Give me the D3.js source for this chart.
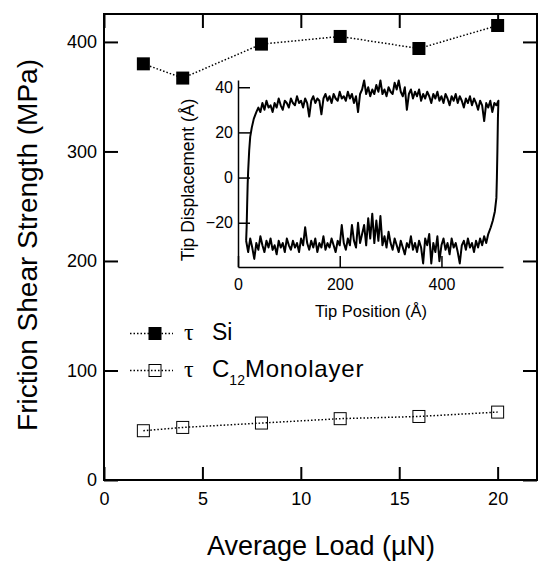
<!DOCTYPE html>
<html>
<head>
<meta charset="utf-8">
<script src="https://cdn.jsdelivr.net/npm/d3@7"></script>
<style>
  body { margin: 0; background: #fff; }
  svg { display: block; font-family: "Liberation Sans", Arial, sans-serif; }
  .tick text { fill: #000; }
</style>
</head>
<body>
<div id="chart"></div>
<script>
// main plot: average load (uN) vs friction shear strength (MPa)
const loads = [2, 4, 8, 12, 16, 20];
const tauSi = [380, 367, 398, 405, 394, 415];
const tauC12 = [45, 48, 52, 56, 58, 62];
const xTicks = [0, 5, 10, 15, 20];
const yTicks = [0, 100, 200, 300, 400];

// inset: friction loop, tip position (A) vs tip displacement (A)
const insetXTicks = [0, 200, 400];
const insetYTicks = [-20, 0, 20, 40];
const loopStartX = 40, loopStep = 4;       // forward trace sampled from 40 A every 4 A
const backStartX = 16;                      // return trace sampled from 16 A every 4 A
const traceForward = [
  31, 29, 33, 30, 34, 31, 32, 29, 33, 31, 35, 32, 30, 34, 33, 31, 35, 33, 32, 36,
  33, 34, 31, 35, 33, 27, 34, 36, 33, 35, 34, 28, 35, 37, 34, 36, 33, 37, 35, 34,
  38, 35, 36, 34, 38, 35, 37, 33, 36, 29, 37, 39, 43, 37, 40, 36, 39, 37, 41, 38,
  43, 37, 39, 36, 40, 38, 37, 42, 39, 43, 38, 36, 40, 30, 37, 39, 35, 38, 36, 39,
  34, 37, 35, 38, 36, 33, 37, 35, 38, 34, 36, 33, 37, 35, 32, 36, 34, 37, 33, 36,
  34, 31, 35, 33, 36, 32, 35, 33, 30, 34, 32, 25, 33, 31, 34, 29, 33, 32, 34
];
const traceBack = [
  -28, -33, -27, -31, -36, -29, -32, -26, -30, -33, -28, -31, -27, -32, -30, -34, -28, -31, -29, -33,
  -27, -30, -32, -28, -31, -29, -33, -27, -30, -22, -29, -32, -28, -31, -27, -33, -29, -31, -26, -32,
  -29, -31, -27, -30, -33, -28, -30, -21, -29, -32, -27, -30, -21, -28, -31, -20, -29, -25, -21, -30,
  -18, -27, -16, -29, -19, -28, -17, -30, -26, -31, -24, -29, -32, -27, -30, -33, -28, -31, -34, -29,
  -31, -26, -32, -29, -33, -28, -31, -38, -27, -30, -25, -38, -29, -33, -26, -37, -30, -27, -32, -29,
  -34, -27, -31, -29, -33, -38, -30, -28, -32, -27, -31, -29, -33, -28, -31, -27, -30, -26, -29, -25
];
// sticking part at the left end (up) and right end (down), [position, displacement]
const leftTurn = [[17, -22], [18, -12], [19, -3], [20, 3], [22, 12], [24, 18], [27, 22], [31, 26], [36, 29]];
const rightTurn = [[511, 26], [510, 12], [509, 0], [508, -9], [505, -15], [501, -19], [497, -22]];

const W = 540, H = 561;
const svg = d3.select("#chart").append("svg").attr("width", W).attr("height", H);

const x = d3.scaleLinear().domain([0, 22]).range([104, 537]);
const y = d3.scaleLinear().domain([0, 425.5]).range([480, 14]);

// axes (ticks pointing inward, mirrored on top/right)
const axLeft = svg.append("g").attr("transform", `translate(${x(0)},0)`)
  .call(d3.axisLeft(y).tickValues(yTicks).tickSizeInner(-14).tickSizeOuter(0).tickPadding(7));
const axBottom = svg.append("g").attr("transform", `translate(0,${y(0)})`)
  .call(d3.axisBottom(x).tickValues(xTicks).tickSizeInner(-13).tickSizeOuter(0).tickPadding(12));
const axTop = svg.append("g").attr("transform", `translate(0,${y.range()[1]})`)
  .call(d3.axisTop(x).tickValues(xTicks).tickSizeInner(-14).tickSizeOuter(0).tickFormat(""));
const axRight = svg.append("g").attr("transform", `translate(${x.range()[1]},0)`)
  .call(d3.axisRight(y).tickValues(yTicks).tickSizeInner(-14).tickSizeOuter(0).tickFormat(""));

[axLeft, axBottom, axTop, axRight].forEach(g => {
  g.select(".domain").remove();
  g.selectAll(".tick line").attr("stroke", "#000").attr("stroke-width", 2);
  g.selectAll(".tick text").style("font-size", "18px").attr("font-family", null);
});

svg.append("rect")
  .attr("x", x(0)).attr("y", y.range()[1])
  .attr("width", x.range()[1] - x(0)).attr("height", y(0) - y.range()[1])
  .attr("fill", "none").attr("stroke", "#000").attr("stroke-width", 2);

svg.append("text")
  .attr("transform", `translate(37,245) rotate(-90)`)
  .attr("text-anchor", "middle")
  .style("font-size", "28px")
  .text("Friction Shear Strength (MPa)");

svg.append("text")
  .attr("x", 321).attr("y", 555)
  .attr("text-anchor", "middle")
  .style("font-size", "27px")
  .text("Average Load (\u00b5N)");

// series
const siData = loads.map((l, i) => ({ load: l, tau: tauSi[i] }));
const c12Data = loads.map((l, i) => ({ load: l, tau: tauC12[i] }));
const line = d3.line().x(d => x(d.load)).y(d => y(d.tau));

[siData, c12Data].forEach(data => {
  svg.append("path").datum(data)
    .attr("d", line)
    .attr("fill", "none").attr("stroke", "#000")
    .attr("stroke-width", 1.5).attr("stroke-dasharray", "1.5,2");
});

const sq = 13;
svg.selectAll(".si").data(siData).enter().append("rect")
  .attr("class", "si")
  .attr("x", d => x(d.load) - sq / 2).attr("y", d => y(d.tau) - sq / 2)
  .attr("width", sq).attr("height", sq).attr("fill", "#000");

svg.selectAll(".c12").data(c12Data).enter().append("rect")
  .attr("class", "c12")
  .attr("x", d => x(d.load) - (sq - 1) / 2).attr("y", d => y(d.tau) - (sq - 1) / 2)
  .attr("width", sq - 1).attr("height", sq - 1)
  .attr("fill", "none").attr("stroke", "#000").attr("stroke-width", 1);

// legend
const legend = [
  { y: 333.5, filled: true },
  { y: 370.5, filled: false }
];
legend.forEach(it => {
  svg.append("line").attr("x1", 130).attr("x2", 173).attr("y1", it.y).attr("y2", it.y)
    .attr("stroke", "#000").attr("stroke-width", 1.5).attr("stroke-dasharray", "1.5,2");
  if (it.filled) {
    svg.append("rect").attr("x", 155 - sq / 2).attr("y", it.y - sq / 2)
      .attr("width", sq).attr("height", sq).attr("fill", "#000");
  } else {
    svg.append("rect").attr("x", 155 - (sq - 1) / 2).attr("y", it.y - (sq - 1) / 2)
      .attr("width", sq - 1).attr("height", sq - 1)
      .attr("fill", "none").attr("stroke", "#000").attr("stroke-width", 1);
  }
  svg.append("text").attr("x", 184).attr("y", it.y + 6.5)
    .style("font-family", "'Liberation Serif', 'DejaVu Serif', serif").style("font-size", "24px")
    .text("\u03c4");
});
svg.append("text").attr("x", 212).attr("y", 340).style("font-size", "23px").text("Si");
const c12Label = svg.append("text").attr("x", 212).attr("y", 377).style("font-size", "24px");
c12Label.append("tspan").text("C");
c12Label.append("tspan").attr("dy", 8).style("font-size", "14px").text("12");
c12Label.append("tspan").attr("dy", -8).style("letter-spacing", "0.8px").text("Monolayer");

// inset
const ix = d3.scaleLinear().domain([0, 521]).range([238, 503]);
const iy = d3.scaleLinear().domain([-39.6, 43.2]).range([267, 80]);

const inLeft = svg.append("g").attr("transform", `translate(${ix(0)},0)`)
  .call(d3.axisLeft(iy).tickValues(insetYTicks).tickSizeInner(-12).tickSizeOuter(0).tickPadding(5));
const inBottom = svg.append("g").attr("transform", `translate(0,${iy(-39.6)})`)
  .call(d3.axisBottom(ix).tickValues(insetXTicks).tickSizeInner(-11).tickSizeOuter(0).tickPadding(12));
[inLeft, inBottom].forEach(g => {
  g.select(".domain").attr("stroke", "#000").attr("stroke-width", 1.5);
  g.selectAll(".tick line").attr("stroke", "#000").attr("stroke-width", 1.5);
  g.selectAll(".tick text").style("font-size", "16px").attr("font-family", null);
});

svg.append("text")
  .attr("transform", `translate(194,180) rotate(-90)`)
  .attr("text-anchor", "middle")
  .style("font-size", "17.5px")
  .text("Tip Displacement (\u00c5)");
svg.append("text")
  .attr("x", 371).attr("y", 317)
  .attr("text-anchor", "middle")
  .style("font-size", "16.5px")
  .text("Tip Position (\u00c5)");

const fwd = traceForward.map((v, i) => [loopStartX + i * loopStep, v]);
const back = traceBack.map((v, i) => [backStartX + i * loopStep, v]);
const loopPts = [back[0]].concat(leftTurn, fwd, rightTurn, back.slice().reverse());

svg.append("path").datum(loopPts)
  .attr("d", d3.line().x(d => ix(d[0])).y(d => iy(d[1])))
  .attr("fill", "none").attr("stroke", "#000")
  .attr("stroke-width", 2).attr("stroke-linejoin", "round");
</script>
</body>
</html>
